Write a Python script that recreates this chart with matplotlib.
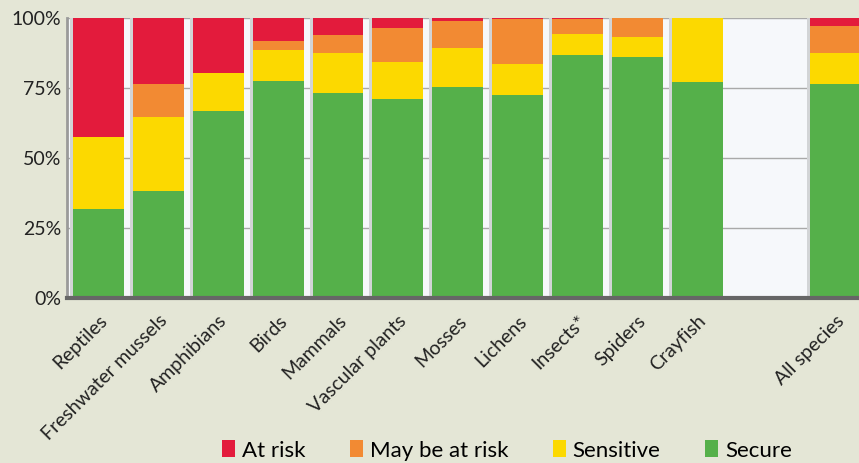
import numpy as np
import matplotlib
matplotlib.use('Agg')
import matplotlib.pyplot as plt
from matplotlib.patches import Patch

# species groups and percentage shares
groups = ['Reptiles', 'Freshwater mussels', 'Amphibians', 'Birds', 'Mammals',
          'Vascular plants', 'Mosses', 'Lichens', 'Insects*', 'Spiders',
          'Crayfish', 'All species']
secure = [31.8, 38.3, 66.9, 77.6, 73.3, 71.1, 75.5, 72.6, 86.7, 86.0, 77.1, 76.4]
sensitive = [25.6, 26.3, 13.5, 11.1, 14.4, 13.3, 13.8, 11.0, 7.6, 7.1, 22.9, 11.3]
may_be_at_risk = [0.0, 11.9, 0.0, 3.0, 6.1, 11.9, 9.5, 16.0, 5.5, 6.9, 0.0, 9.6]
at_risk = [42.6, 23.5, 19.6, 8.3, 6.2, 3.7, 1.2, 0.4, 0.2, 0.0, 0.0, 2.7]
legend_labels = ['At risk', 'May be at risk', 'Sensitive', 'Secure']
y_ticks = [0, 25, 50, 75, 100]

COLORS = {'At risk': '#e31b3c', 'May be at risk': '#f28a33',
          'Sensitive': '#fcd900', 'Secure': '#55b04a'}
BG = '#e4e6d6'
FONT = 'Lato'

# "All species" sits after an empty slot
pos = np.arange(len(groups), dtype=float)
pos[-1] += 1.31
width = 0.85

fig = plt.figure(figsize=(8.59, 4.63), dpi=100, facecolor=BG)
ax = fig.add_axes([0.078, 0.356, 0.922, 0.605])
ax.set_facecolor('#f6f8fb')

# soft shadow left of each bar
ax.bar(pos - 0.05, [100] * len(pos), width=width, color='#d2d4d6', zorder=1)

stack = [('Secure', secure), ('Sensitive', sensitive),
         ('May be at risk', may_be_at_risk), ('At risk', at_risk)]
bottom = np.zeros(len(groups))
for name, vals in stack:
    ax.bar(pos, vals, width=width, bottom=bottom, color=COLORS[name],
           linewidth=0, zorder=2)
    bottom += np.array(vals)

ax.set_xlim(-0.525, 12.70)
ax.set_ylim(0, 100)
ax.set_yticks(y_ticks)
ax.set_yticklabels([f'{t}%' for t in y_ticks], fontsize=14, family=FONT,
                   color='#222222')
ax.yaxis.grid(True, color='#a9a9a9', linewidth=1, zorder=0)
ax.set_axisbelow(True)

ax.set_xticks(pos)
ax.set_xticklabels(groups, rotation=45, ha='right', rotation_mode='anchor',
                   fontsize=14, family=FONT, color='#222222')
ax.tick_params(length=0, pad=4)
ax.tick_params(axis='x', pad=10)

for side in ['top', 'right']:
    ax.spines[side].set_visible(False)
ax.spines['left'].set_color('#9a9a9a')
ax.spines['left'].set_linewidth(2)
ax.spines['bottom'].set_color('#666666')
ax.spines['bottom'].set_linewidth(3)

handles = [Patch(facecolor=COLORS[l], edgecolor='none') for l in legend_labels]
fig.legend(handles, legend_labels, loc='center', ncol=4, frameon=False,
           bbox_to_anchor=(0.59, 0.027), prop={'family': FONT, 'size': 16},
           handlelength=0.6, handleheight=0.8, handletextpad=0.3,
           columnspacing=2.0)

fig.savefig('out.png', dpi=100, facecolor=BG)
